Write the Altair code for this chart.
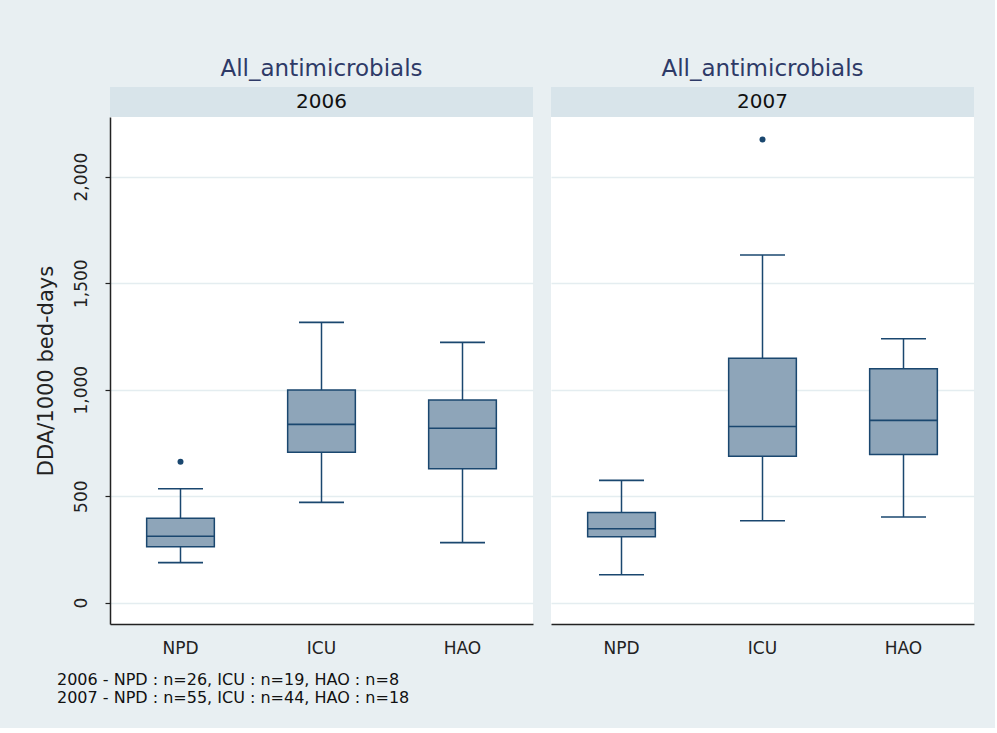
import altair as alt
import pandas as pd

# ---- data ----
years = ["2006", "2006", "2006", "2007", "2007", "2007"]
groups = ["NPD", "ICU", "HAO", "NPD", "ICU", "HAO"]
lower = [188, 471, 282, 131, 385, 402]
q1 = [263, 706, 629, 309, 688, 696]
median = [312, 837, 819, 347, 827, 856]
q3 = [396, 999, 951, 423, 1147, 1098]
upper = [535, 1316, 1222, 574, 1632, 1239]

out_years = ["2006", "2007"]
out_groups = ["NPD", "ICU"]
out_values = [662, 2174]

group_order = ["NPD", "ICU", "HAO"]
y_ticks = [0, 500, 1000, 1500, 2000]
panel_title = "All_antimicrobials"
y_title = "DDA/1000 bed-days"
note_lines = [
    "2006 - NPD : n=26, ICU : n=19, HAO : n=8",
    "2007 - NPD : n=55, ICU : n=44, HAO : n=18",
]

df = pd.DataFrame({"year": years, "group": groups, "lower": lower, "q1": q1,
                   "median": median, "q3": q3, "upper": upper})
odf = pd.DataFrame({"year": out_years, "group": out_groups, "value": out_values})

NAVY = "#1a476f"
FILL = "#8EA5B9"
STRIP = "#D8E4EA"
BG = "#E8EFF2"
GRID = "#E4EDF0"
FONT = "DejaVu Sans"
PW, PH = 423, 507


def panel(year, show_y):
    d = df[df.year == year]
    o = odf[odf.year == year]
    xenc = alt.X("group:N", sort=group_order,
                 scale=alt.Scale(type="band", domain=group_order, paddingInner=0, paddingOuter=0),
                 axis=alt.Axis(title=None, labelAngle=0, ticks=False, domain=True,
                               domainColor="#222222", domainWidth=1.5, labelFontSize=17,
                               labelFont=FONT, labelColor="#222222", labelPadding=16, grid=False))
    yscale = alt.Scale(domain=[-100, 2280], nice=False, zero=False)
    if show_y:
        yaxis = alt.Axis(title=y_title, values=y_ticks, format=",.0f", labelAngle=270,
                         labelAlign="center", labelBaseline="bottom", labelFontSize=17,
                         labelFont=FONT, labelColor="#222222", labelPadding=15, tickSize=5,
                         tickColor="#222222", tickWidth=1.2, domainColor="#222222", domainWidth=1.5,
                         grid=True, gridColor=GRID, gridWidth=1.5, titleFontSize=21,
                         titleFont=FONT, titleFontWeight="normal", titleColor="#222222",
                         titlePadding=16)
    else:
        yaxis = alt.Axis(title=None, values=y_ticks, labels=False, ticks=False, domain=False,
                         grid=True, gridColor=GRID, gridWidth=1.5)

    def Y(field):
        return alt.Y(f"{field}:Q", scale=yscale, axis=yaxis)

    base = alt.Chart(d)
    whisker = base.mark_rule(color=NAVY, strokeWidth=1.5).encode(
        x=xenc, y=Y("lower"), y2="upper:Q")
    box = base.mark_bar(width=alt.RelativeBandSize(0.48), fill=FILL, stroke=NAVY,
                        strokeWidth=1.5, opacity=1).encode(x=xenc, y=Y("q1"), y2="q3:Q")
    med = base.mark_tick(size=68, thickness=1.6, color=NAVY, opacity=1).encode(
        x=xenc, y=Y("median"))
    cap_lo = base.mark_tick(size=45, thickness=1.6, color=NAVY, opacity=1).encode(
        x=xenc, y=Y("lower"))
    cap_hi = base.mark_tick(size=45, thickness=1.6, color=NAVY, opacity=1).encode(
        x=xenc, y=Y("upper"))
    pts = alt.Chart(o).mark_circle(size=36, color=NAVY, opacity=1).encode(
        x=xenc, y=alt.Y("value:Q", scale=yscale, axis=yaxis))

    plot = alt.layer(whisker, box, med, cap_lo, cap_hi, pts).properties(
        width=PW, height=PH, view=alt.ViewBackground(fill="white", stroke=None))

    strip = alt.Chart(pd.DataFrame({"label": [year]})).mark_text(
        fontSize=20, font=FONT, color="#111111", baseline="middle", align="center"
    ).encode(text="label:N", x=alt.value(PW / 2), y=alt.value(15)).properties(
        width=PW, height=30, view=alt.ViewBackground(fill=STRIP, stroke=None),
        title=alt.TitleParams(panel_title, fontSize=23, font=FONT, fontWeight="normal",
                              color="#2E3A67", anchor="middle", offset=6))
    return alt.vconcat(strip, plot, spacing=0)


chart = alt.hconcat(panel("2006", True), panel("2007", False), spacing=18).properties(
    title=alt.TitleParams(note_lines, orient="bottom", anchor="start", fontSize=16,
                          font=FONT, fontWeight="normal", color="#111111", lineHeight=18,
                          offset=16, dx=22),
    padding={"left": 35, "top": 58, "right": 21, "bottom": 22},
).configure(background=BG).configure_view(stroke=None)

chart.save("out.html", embed_options={"renderer": "svg", "actions": False})
